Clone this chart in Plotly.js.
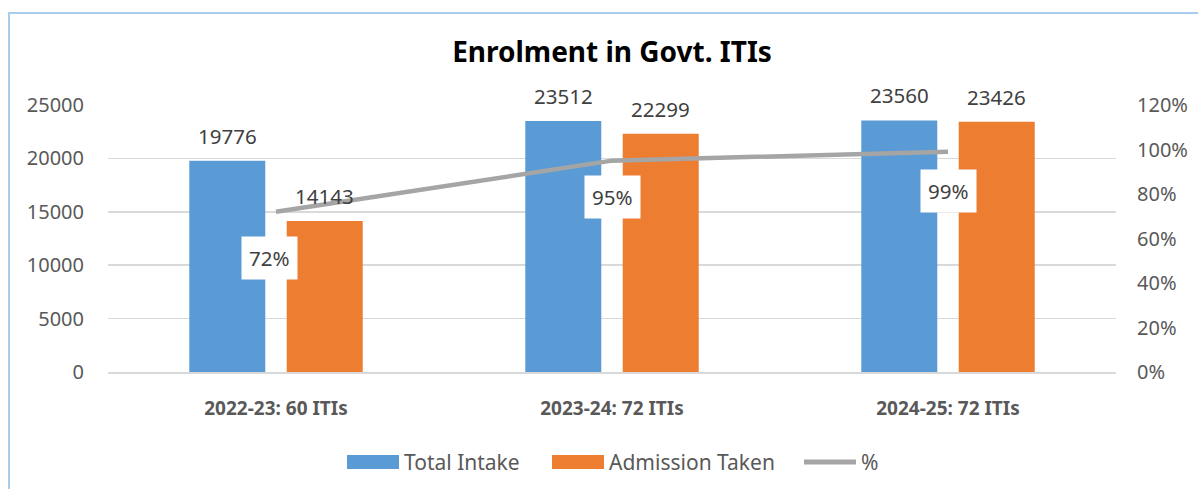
<!DOCTYPE html>
<html>
<head>
<meta charset="utf-8">
<script src="https://cdn.plot.ly/plotly-3.0.1.min.js"></script>
<style>
html,body{margin:0;padding:0;background:#fff;}
#chart{width:1198px;height:489px;position:relative;}
#frame{position:absolute;left:8px;top:12px;width:1190px;height:477px;border-left:2px solid #a9cbec;border-top:2px solid #a9cbec;pointer-events:none;box-sizing:border-box;}
</style>
</head>
<body>
<div id="chart"></div>
<div id="frame"></div>
<script>
var categories = ["2022-23: 60 ITIs", "2023-24: 72 ITIs", "2024-25: 72 ITIs"];
var totalIntake = [19776, 23512, 23560];
var admissionTaken = [14143, 22299, 23426];
var percent = [0.72, 0.95, 0.99];
var percentLabels = ["72%", "95%", "99%"];
var seriesNames = ["Total Intake", "Admission Taken", "%"];
var titleText = "Enrolment in Govt. ITIs";

var FONT = "Noto Sans, Open Sans, sans-serif";
var BLUE = "#5b9bd5", ORANGE = "#ed7d31", GRAY = "#a5a5a5";

var traces = [
  {type:"bar", name:seriesNames[0], x:categories, y:totalIntake, marker:{color:BLUE}, hoverinfo:"none", showlegend:false},
  {type:"bar", name:seriesNames[1], x:categories, y:admissionTaken, marker:{color:ORANGE}, hoverinfo:"none", showlegend:false},
  {type:"scatter", mode:"lines", name:seriesNames[2], x:categories, y:percent, yaxis:"y2",
   line:{color:GRAY, width:4.5}, hoverinfo:"none", showlegend:false}
];

var pctShiftX = [-7, 0, 0];
var pctShiftY = [-46, -36, -39];
var annotations = [];
categories.forEach(function(c, i){
  annotations.push({x:c, y:totalIntake[i], xref:"x", yref:"y", xshift:-48.5, yshift:9, yanchor:"bottom",
    text:String(totalIntake[i]), showarrow:false, font:{family:FONT, size:20.5, color:"#404040"}});
  annotations.push({x:c, y:admissionTaken[i], xref:"x", yref:"y", xshift:48.5, yshift:9, yanchor:"bottom",
    text:String(admissionTaken[i]), showarrow:false, font:{family:FONT, size:20.5, color:"#404040"}});
  annotations.push({x:c, y:percent[i], xref:"x", yref:"y2", xshift:pctShiftX[i], yshift:pctShiftY[i], yanchor:"middle",
    text:percentLabels[i], showarrow:false, bgcolor:"#ffffff", borderpad:7,
    font:{family:FONT, size:20.5, color:"#404040"}});
});

// custom legend (paper coords: plot area x 108..1116, y 105..372)
function px(x){ return (x-108)/1008; }
function py(y){ return (372-y)/267; }
var shapes = [
  {type:"rect", xref:"paper", yref:"paper", x0:px(347), x1:px(399), y0:py(469), y1:py(455), fillcolor:BLUE, line:{width:0}},
  {type:"rect", xref:"paper", yref:"paper", x0:px(552), x1:px(604), y0:py(469), y1:py(455), fillcolor:ORANGE, line:{width:0}},
  {type:"line", xref:"paper", yref:"paper", x0:px(804), x1:px(856), y0:py(462), y1:py(462), line:{color:GRAY, width:5}}
];
var legendX = [402, 607, 859];
seriesNames.forEach(function(n, i){
  annotations.push({xref:"paper", yref:"paper", x:px(legendX[i]), y:py(462), xanchor:"left", yanchor:"middle",
    text:n, showarrow:false, font:{family:FONT, size:21, color:"#595959"}});
});

var layout = {
  width:1198, height:489,
  margin:{l:108, r:82, t:105, b:117},
  paper_bgcolor:"rgba(0,0,0,0)", plot_bgcolor:"rgba(0,0,0,0)",
  title:{text:"<b>"+titleText+"</b>", font:{family:FONT, size:28, color:"#000000"}, x:0.5, xref:"paper", y:1-52/489, yanchor:"middle"},
  barmode:"group", bargap:0.42, bargroupgap:0.22,
  showlegend:false,
  xaxis:{type:"category", showgrid:false, zeroline:false, showline:true, linecolor:"#d9d9d9", linewidth:2,
    ticks:"", tickfont:{family:FONT, size:19, color:"#595959", weight:"bold"}, ticklabelstandoff:18, fixedrange:true},
  yaxis:{range:[0,25000], dtick:5000, tick0:0, tickformat:"d", showgrid:true, gridcolor:"#d9d9d9", gridwidth:1.5, zeroline:false,
    showline:false, ticks:"", tickfont:{family:FONT, size:20, color:"#595959"}, ticklabelstandoff:23, fixedrange:true},
  yaxis2:{range:[0,1.2], dtick:0.2, tick0:0, tickformat:".0%", overlaying:"y", side:"right", showgrid:false,
    zeroline:false, showline:false, ticks:"", tickfont:{family:FONT, size:20, color:"#595959"}, ticklabelstandoff:20, fixedrange:true},
  annotations:annotations,
  shapes:shapes
};

Plotly.newPlot("chart", traces, layout, {displayModeBar:false, staticPlot:true});
</script>
</body>
</html>
